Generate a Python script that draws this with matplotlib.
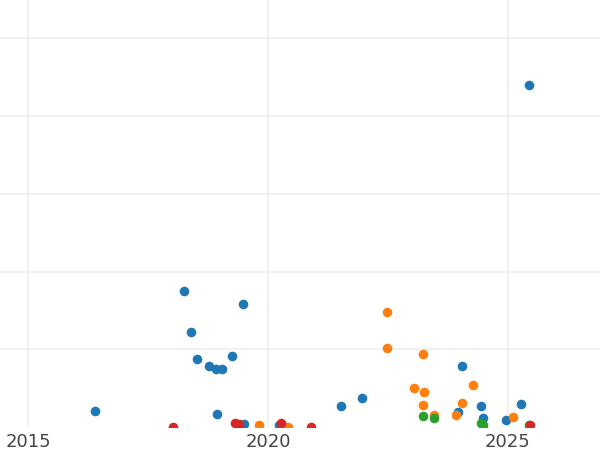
import matplotlib

matplotlib.use("Agg")

import matplotlib.pyplot as plt

# values (year, value in grid units)
blue_x = [2016.39, 2018.24, 2019.48, 2018.39, 2018.52, 2018.77, 2018.91, 2019.04,
          2019.25, 2018.93, 2019.50, 2020.22, 2021.52, 2021.95, 2024.04, 2024.43,
          2023.96, 2024.48, 2024.96, 2025.27, 2025.44]
blue_y = [0.21, 1.745, 1.58, 1.225, 0.88, 0.785, 0.74, 0.75,
          0.91, 0.17, 0.04, 0.03, 0.27, 0.37, 0.785, 0.27,
          0.19, 0.12, 0.09, 0.30, 4.395]

orange_x = [2022.47, 2022.47, 2023.23, 2023.04, 2023.26, 2023.23, 2023.45,
            2024.05, 2024.27, 2023.92, 2025.10, 2019.82, 2020.42]
orange_y = [1.475, 1.01, 0.94, 0.50, 0.45, 0.28, 0.16,
            0.305, 0.535, 0.16, 0.125, 0.02, 0.0]

green_x = [2023.23, 2023.45, 2024.43, 2024.49, 2025.43]
green_y = [0.145, 0.11, 0.055, 0.03, 0.02]

red_x = [2018.02, 2019.32, 2019.40, 2020.26, 2020.90, 2025.47]
red_y = [0.0, 0.055, 0.04, 0.05, 0.0, 0.02]

fig = plt.figure(figsize=(6, 4.5), dpi=100)
ax = fig.add_axes([0, 23 / 450, 1, 427 / 450])

for xs, ys, c in [(blue_x, blue_y, "#1f77b4"), (orange_x, orange_y, "#ff7f0e"),
                  (green_x, green_y, "#2ca02c"), (red_x, red_y, "#d62728")]:
    ax.scatter(xs, ys, s=48, color=c, linewidths=0, zorder=3)

ax.set_xlim(2014.41, 2026.92)
ax.set_ylim(0, 427 / 77.75)
ax.set_xticks([2015, 2020, 2025])
ax.set_yticks([1, 2, 3, 4, 5])
ax.set_yticklabels([])
ax.tick_params(length=0, labelsize=13, labelcolor="#444444", pad=4)
ax.grid(True, color="#ededed", linewidth=1.1)
ax.set_axisbelow(True)
for s in ax.spines.values():
    s.set_visible(False)

fig.savefig("out.png", dpi=100)
